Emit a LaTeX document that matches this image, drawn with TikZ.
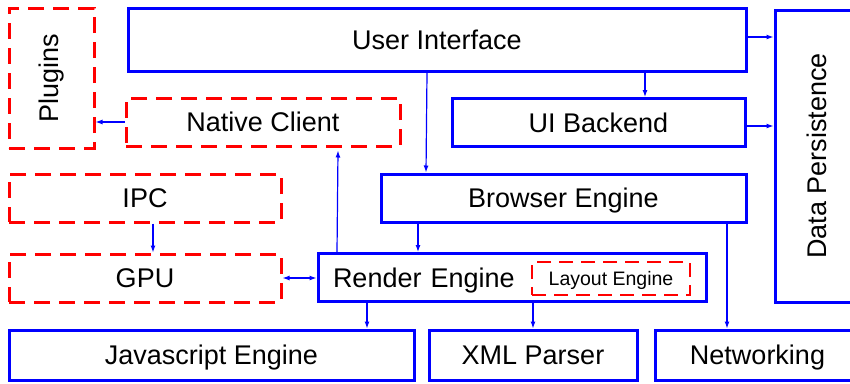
\documentclass[tikz,border=0pt]{standalone}
\usepackage{fontspec}
\setmainfont{Liberation Sans}
\usetikzlibrary{arrows.meta}
\tikzset{
    box/.style = {
        draw = blue, line width = 3pt,
        minimum height = 48pt,
        inner sep = 0pt, align = center,
        text height = 19.5pt, text depth = 0pt,
        font = \fontsize{27}{30}\selectfont
    },
    extbox/.style = {box, draw = red, dash pattern = on 16pt off 9pt},
    line/.style = {-{Latex[length=7pt,width=5pt]}, draw = blue, line width = 1.2pt},
    bothline/.style = {line, {Latex[length=7pt,width=5pt]}-{Latex[length=7pt,width=5pt]}}
}
\begin{document}
\begin{tikzpicture}[x=1pt, y=-1pt]

    \useasboundingbox (0,0) rectangle (850,383);
    \clip (0,0) rectangle (850,383);

    % Core components
    \node[box, minimum width=618, minimum height=63] (ui) at (437,40) {User Interface};
    \node[box, minimum width=293] (uiback) at (598.5,122.5) {UI Backend};
    \node[box, minimum width=84, minimum height=292, text height=, text depth=] (persist) at (817,156) {\rotatebox{90}{Data Persistence}};
    \node[box, minimum width=365] (browser) at (563.5,198) {Browser Engine};
    \node[box, minimum width=388, text width=358, align=left] (render) at (512,277.5) {Render Engine};
    \node[box, minimum width=405, minimum height=50] (js) at (211.5,355) {Javascript Engine};
    \node[box, minimum width=208, minimum height=50] (xml) at (533,355) {XML Parser};
    \node[box, minimum width=205, minimum height=50] (net) at (757.5,355) {Networking};

    % Extra components
    \node[extbox, minimum width=85, minimum height=140, text height=, text depth=] (plugins) at (51.5,78) {\rotatebox{90}{Plugins}};
    \node[extbox, minimum width=274] (native) at (263,122) {Native Client};
    \node[extbox, minimum width=272] (ipc) at (145,198) {IPC};
    \node[extbox, minimum width=272] (gpu) at (145,278) {GPU};
    \node[extbox, minimum width=158, minimum height=33, line width=2.5pt, text height=14pt,
          dash pattern=on 14pt off 8pt, font=\fontsize{19.5}{22}\selectfont] (layout) at (611,278.5) {Layout Engine};

    % Connections
    \draw[line] (ui.east |- 0,37) -- (persist.west |- 0,37);
    \draw[line] (645,0 |- ui.south) -- (645,0 |- uiback.north);
    \draw[line] (427,0 |- ui.south) -- (426,0 |- browser.north);
    \draw[line] (uiback.east |- 0,126) -- (persist.west |- 0,126);
    \draw[line] (native.west) -- (native.west -| plugins.east);
    \draw[line] (337,0 |- render.north) -- ([yshift=-3pt]338,0 |- native.south);
    \draw[line] (153,0 |- ipc.south) -- (153,0 |- gpu.north);
    \draw[bothline] (gpu.east) -- (gpu.east -| render.west);
    \draw[line] (418,0 |- browser.south) -- (418,0 |- render.north);
    \draw[line] (727,0 |- browser.south) -- (727,0 |- net.north);
    \draw[line] (367,0 |- render.south) -- (367,0 |- js.north);
    \draw[line] (533,0 |- render.south) -- (533,0 |- xml.north);

\end{tikzpicture}
\end{document}
